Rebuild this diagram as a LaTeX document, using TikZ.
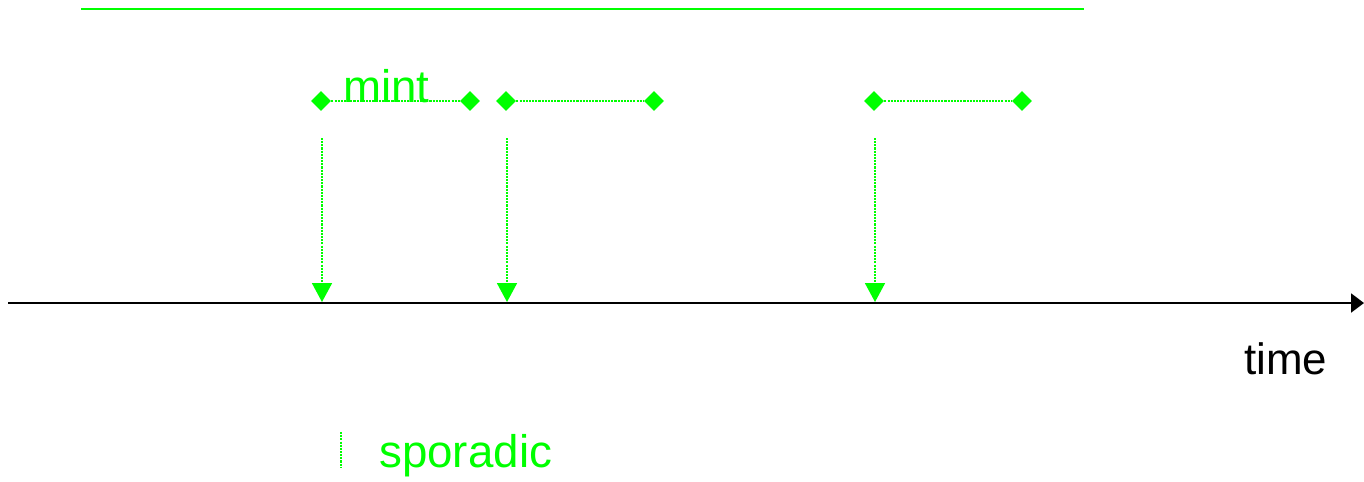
\documentclass[tikz,border=0pt]{standalone}
\usepackage{fontspec}
\setmainfont{Liberation Sans}
\usepackage{xcolor}
\usepackage{tikz}
\usetikzlibrary{shapes.geometric,arrows.meta}
\definecolor{mint}{RGB}{0,255,0}

\begin{document}
\begin{tikzpicture}[x=0.02cm,y=-0.02cm,
  tick/.style={diamond,fill=mint,inner sep=0pt,minimum width=0.4cm,minimum height=0.4cm},
  gap/.style={draw=mint,line width=1pt,dash pattern=on 1.2pt off 0.6pt},
  hit/.style={gap,-{Triangle[width=0.4cm,length=0.38cm]}},
  lbl/.style={inner sep=0pt,anchor=base west,font=\fontsize{26}{31}\selectfont}]
\useasboundingbox (0,0) rectangle (1364,481);

\coordinate (topw) at (81,9);
\coordinate (tope) at (1084,9);
\draw[mint,line width=1.1pt] (topw) -- (tope);

\node[tick] (a1) at (321,101){};
\node[tick] (b1) at (470,101){};
\node[tick] (a2) at (506,101){};
\node[tick] (b2) at (654,101){};
\node[tick] (a3) at (874,101){};
\node[tick] (b3) at (1022,101){};
\draw[gap] (a1) -- (b1);
\draw[gap] (a2) -- (b2);
\draw[gap] (a3) -- (b3);
\node[lbl,text=mint] (mint) at (343,102){mint};

\coordinate (t0) at (8,303);
\coordinate (t1) at (1364,303);
\draw[line width=1.2pt,-{Triangle[width=0.38cm,length=0.26cm]}] (t0) -- (t1);
\node[lbl,font=\fontsize{25}{30}\selectfont] (time) at (1244,374){time};

\coordinate (s1) at (322,138);
\coordinate (s2) at (507,138);
\coordinate (s3) at (875,138);
\coordinate (e1) at (322,302);
\coordinate (e2) at (507,302);
\coordinate (e3) at (875,302);
\draw[hit] (s1) -- (e1);
\draw[hit] (s2) -- (e2);
\draw[hit] (s3) -- (e3);

\coordinate (k0) at (341,432);
\coordinate (k1) at (341,467);
\draw[gap] (k0) -- (k1);
\node[lbl,text=mint] (sporadic) at (379,467){sporadic};
\end{tikzpicture}
\end{document}
